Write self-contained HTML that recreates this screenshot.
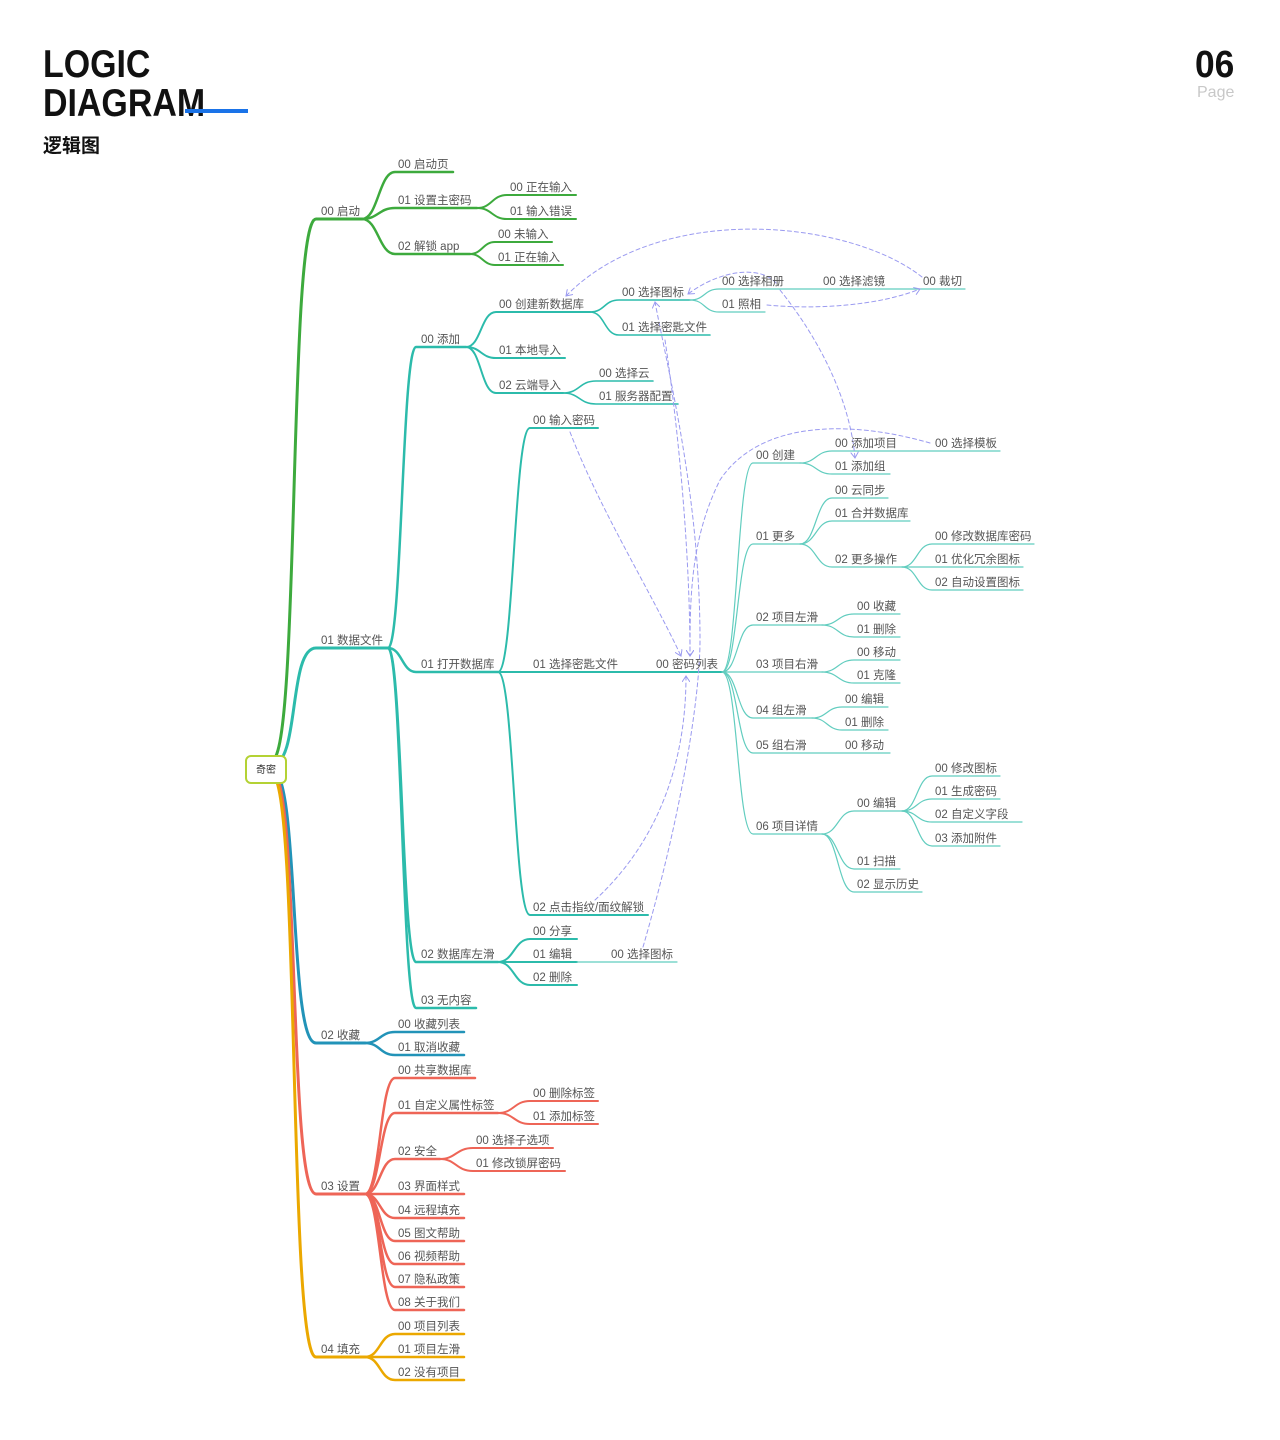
<!DOCTYPE html>
<html><head><meta charset="utf-8"><style>
html,body{margin:0;padding:0;background:#fff;}
body{width:1280px;height:1440px;position:relative;overflow:hidden;font-family:"Liberation Sans","Noto Sans CJK SC",sans-serif;}
.t1{position:absolute;left:43px;top:45px;font-size:39px;font-weight:bold;line-height:39px;color:#111;transform:scaleX(0.87);transform-origin:0 0;}
.bar{position:absolute;left:185px;top:109px;width:63px;height:4px;background:#1a73e8;}
.t2{position:absolute;left:43px;top:131px;font-size:19px;font-weight:bold;color:#111;}
.pg{position:absolute;left:1195px;top:44px;font-size:38px;font-weight:bold;color:#111;line-height:42px;transform:scaleX(0.93);transform-origin:0 0;}
.pg2{position:absolute;left:1197px;top:84px;font-size:16px;color:#c8c8c8;}
svg{position:absolute;left:0;top:0;}
svg text{font-family:"Liberation Sans","Noto Sans CJK SC",sans-serif;font-size:11.5px;fill:#555;}
</style></head><body>
<div class="t1">LOGIC<br>DIAGRAM</div>
<div class="bar"></div>
<div class="t2">逻辑图</div>
<div class="pg">06</div>
<div class="pg2">Page</div>
<svg width="1280" height="1440" viewBox="0 0 1280 1440">
<defs><marker id="a" markerWidth="8" markerHeight="8" refX="6" refY="4" orient="auto"><path d="M0 0 L6 4 L0 8" fill="none" stroke="#9a9af0" stroke-width="1"/></marker></defs>
<g fill="none" stroke-linecap="round">
<g stroke="#3daa3d" stroke-width="2.5">
<path d="M272 760 C300 760 288 219 316 219 L362 219" stroke-width="3"/>
<path d="M362 219 C378 219 379 172 395 172 L453 172"/>
<path d="M362 219 C378 219 379 208 395 208 L477 208"/>
<path d="M362 219 C378 219 379 254 395 254 L470 254"/>
<path d="M477 208 C492 208 492 195 507 195 L576 195" stroke-width="2"/>
<path d="M477 208 C492 208 492 219 507 219 L576 219" stroke-width="2"/>
<path d="M470 254 C482 254 483 242 495 242 L552 242" stroke-width="2"/>
<path d="M470 254 C482 254 483 265 495 265 L563 265" stroke-width="2"/>
</g>
<g stroke="#2cbbab" stroke-width="2">
<path d="M272 765 C300 765 288 648 316 648 L388 648" stroke-width="3"/>
<path d="M388 648 C402 648 402 347 416 347 L466 347" stroke-width="2.5"/>
<path d="M388 648 C402 648 402 672 416 672 L498 672" stroke-width="2.5"/>
<path d="M388 648 C402 648 402 962 416 962 L498 962" stroke-width="2.5"/>
<path d="M388 648 C402 648 402 1008 416 1008 L476 1008" stroke-width="2.5"/>
<path d="M466 347 C481 347 481 312 496 312 L590 312"/>
<path d="M466 347 C481 347 481 358 496 358 L565 358"/>
<path d="M466 347 C481 347 481 393 496 393 L563 393"/>
<path d="M590 312 C605 312 604 300 619 300 L690 300" stroke-width="1.6"/>
<path d="M590 312 C605 312 604 335 619 335 L710 335" stroke-width="1.6"/>
<path d="M563 393 C580 393 579 381 596 381 L653 381" stroke-width="1.6"/>
<path d="M563 393 C580 393 579 404 596 404 L678 404" stroke-width="1.6"/>
<path d="M498 672 C514 672 514 428 530 428 L598 428"/>
<path d="M498 672 L722 672"/>
<path d="M498 672 C514 672 514 915 530 915 L648 915"/>
<path d="M498 962 C514 962 514 939 530 939 L577 939"/>
<path d="M498 962 L577 962"/>
<path d="M498 962 C514 962 514 985 530 985 L577 985"/>
</g>
<g stroke="#62cdbf" stroke-width="1.2">
<path d="M690 300 C705 300 704 289 719 289 L965 289"/>
<path d="M690 300 C705 300 704 312 719 312 L765 312"/>
<path d="M577 962 L677 962"/>
<path d="M722 672 C738 672 737 463 753 463 L800 463"/>
<path d="M722 672 C738 672 737 544 753 544 L800 544"/>
<path d="M722 672 C738 672 737 625 753 625 L822 625"/>
<path d="M722 672 L822 672"/>
<path d="M722 672 C738 672 737 718 753 718 L812 718"/>
<path d="M722 672 C738 672 737 753 753 753 L890 753"/>
<path d="M722 672 C738 672 737 834 753 834 L822 834"/>
<path d="M800 463 C816 463 816 451 832 451 L1000 451"/>
<path d="M800 463 C816 463 816 474 832 474 L890 474"/>
<path d="M800 544 C816 544 816 498 832 498 L888 498"/>
<path d="M800 544 C816 544 816 521 832 521 L910 521"/>
<path d="M800 544 C816 544 816 567 832 567 L902 567"/>
<path d="M902 567 C917 567 917 544 932 544 L1034 544"/>
<path d="M902 567 L1023 567"/>
<path d="M902 567 C917 567 917 590 932 590 L1023 590"/>
<path d="M822 625 C838 625 838 614 854 614 L900 614"/>
<path d="M822 625 C838 625 838 637 854 637 L900 637"/>
<path d="M822 672 C838 672 838 660 854 660 L900 660"/>
<path d="M822 672 C838 672 838 683 854 683 L900 683"/>
<path d="M812 718 C827 718 827 707 842 707 L888 707"/>
<path d="M812 718 C827 718 827 730 842 730 L888 730"/>
<path d="M822 834 C838 834 838 811 854 811 L902 811"/>
<path d="M822 834 C838 834 838 869 854 869 L900 869"/>
<path d="M822 834 C838 834 838 892 854 892 L922 892"/>
<path d="M902 811 C917 811 917 776 932 776 L1000 776"/>
<path d="M902 811 C917 811 917 799 932 799 L1000 799"/>
<path d="M902 811 C917 811 917 822 932 822 L1022 822"/>
<path d="M902 811 C917 811 917 846 932 846 L1000 846"/>
</g>
<g stroke="#2293b8" stroke-width="2.5">
<path d="M272 770 C300 770 288 1043 316 1043 L365 1043" stroke-width="3"/>
<path d="M365 1043 C380 1043 380 1032 395 1032 L464 1032"/>
<path d="M365 1043 C380 1043 380 1055 395 1055 L464 1055"/>
</g>
<g stroke="#ee6557" stroke-width="2.5">
<path d="M272 772 C300 772 288 1194 316 1194 L365 1194" stroke-width="3"/>
<path d="M365 1194 C380 1194 380 1078 395 1078 L475 1078"/>
<path d="M365 1194 C380 1194 380 1113 395 1113 L498 1113"/>
<path d="M365 1194 C380 1194 380 1159 395 1159 L440 1159"/>
<path d="M365 1194 L464 1194"/>
<path d="M365 1194 C380 1194 380 1218 395 1218 L464 1218"/>
<path d="M365 1194 C380 1194 380 1241 395 1241 L464 1241"/>
<path d="M365 1194 C380 1194 380 1264 395 1264 L464 1264"/>
<path d="M365 1194 C380 1194 380 1287 395 1287 L464 1287"/>
<path d="M365 1194 C380 1194 380 1310 395 1310 L464 1310"/>
<path d="M498 1113 C514 1113 514 1101 530 1101 L598 1101" stroke-width="2"/>
<path d="M498 1113 C514 1113 514 1124 530 1124 L598 1124" stroke-width="2"/>
<path d="M440 1159 C456 1159 456 1148 473 1148 L553 1148" stroke-width="2"/>
<path d="M440 1159 C456 1159 456 1171 473 1171 L565 1171" stroke-width="2"/>
</g>
<g stroke="#eba800" stroke-width="2.5">
<path d="M272 775 C300 775 288 1357 316 1357 L365 1357" stroke-width="3"/>
<path d="M365 1357 C380 1357 380 1334 395 1334 L464 1334"/>
<path d="M365 1357 L464 1357"/>
<path d="M365 1357 C380 1357 380 1380 395 1380 L464 1380"/>
</g>
<g stroke="#9a9af0" stroke-width="1" stroke-dasharray="4 3" marker-end="url(#a)">
<path d="M922 277 C850 220 660 200 566 296"/>
<path d="M767 305 C820 310 880 305 920 289"/>
<path d="M776 283 C760 265 720 270 688 294"/>
<path d="M780 290 C820 340 850 400 855 458"/>
<path d="M643 947 C680 820 700 700 700 640 C700 500 670 380 655 302"/>
<path d="M665 340 C680 440 690 560 690 656"/>
<path d="M570 432 C600 510 650 590 681 656"/>
<path d="M930 443 C850 420 760 420 720 480 C690 540 690 600 690 656"/>
<path d="M595 900 C660 840 686 760 686 676"/>
</g>
</g>
<rect x="246" y="756" width="40" height="27" rx="5" fill="#fff" stroke="#b4d234" stroke-width="2"/>
<text x="256" y="773" style="font-size:10px;fill:#333">奇密</text>
<g>
<text x="321" y="215">00 启动</text>
<text x="398" y="168">00 启动页</text>
<text x="398" y="204">01 设置主密码</text>
<text x="398" y="250">02 解锁 app</text>
<text x="510" y="191">00 正在输入</text>
<text x="510" y="215">01 输入错误</text>
<text x="498" y="238">00 未输入</text>
<text x="498" y="261">01 正在输入</text>
<text x="321" y="644">01 数据文件</text>
<text x="421" y="343">00 添加</text>
<text x="499" y="308">00 创建新数据库</text>
<text x="499" y="354">01 本地导入</text>
<text x="499" y="389">02 云端导入</text>
<text x="622" y="296">00 选择图标</text>
<text x="622" y="331">01 选择密匙文件</text>
<text x="722" y="285">00 选择相册</text>
<text x="722" y="308">01 照相</text>
<text x="823" y="285">00 选择滤镜</text>
<text x="923" y="285">00 裁切</text>
<text x="599" y="377">00 选择云</text>
<text x="599" y="400">01 服务器配置</text>
<text x="421" y="668">01 打开数据库</text>
<text x="533" y="424">00 输入密码</text>
<text x="533" y="668">01 选择密匙文件</text>
<text x="656" y="668">00 密码列表</text>
<text x="533" y="911">02 点击指纹/面纹解锁</text>
<text x="421" y="958">02 数据库左滑</text>
<text x="533" y="935">00 分享</text>
<text x="533" y="958">01 编辑</text>
<text x="611" y="958">00 选择图标</text>
<text x="533" y="981">02 删除</text>
<text x="421" y="1004">03 无内容</text>
<text x="756" y="459">00 创建</text>
<text x="835" y="447">00 添加项目</text>
<text x="935" y="447">00 选择模板</text>
<text x="835" y="470">01  添加组</text>
<text x="756" y="540">01 更多</text>
<text x="835" y="494">00 云同步</text>
<text x="835" y="517">01 合并数据库</text>
<text x="835" y="563">02 更多操作</text>
<text x="935" y="540">00 修改数据库密码</text>
<text x="935" y="563">01 优化冗余图标</text>
<text x="935" y="586">02 自动设置图标</text>
<text x="756" y="621">02 项目左滑</text>
<text x="857" y="610">00 收藏</text>
<text x="857" y="633">01 删除</text>
<text x="756" y="668">03 项目右滑</text>
<text x="857" y="656">00 移动</text>
<text x="857" y="679">01 克隆</text>
<text x="756" y="714">04 组左滑</text>
<text x="845" y="703">00 编辑</text>
<text x="845" y="726">01 删除</text>
<text x="756" y="749">05 组右滑</text>
<text x="845" y="749">00 移动</text>
<text x="756" y="830">06 项目详情</text>
<text x="857" y="807">00 编辑</text>
<text x="857" y="865">01 扫描</text>
<text x="857" y="888">02 显示历史</text>
<text x="935" y="772">00 修改图标</text>
<text x="935" y="795">01 生成密码</text>
<text x="935" y="818">02 自定义字段</text>
<text x="935" y="842">03 添加附件</text>
<text x="321" y="1039">02 收藏</text>
<text x="398" y="1028">00 收藏列表</text>
<text x="398" y="1051">01 取消收藏</text>
<text x="321" y="1190">03 设置</text>
<text x="398" y="1074">00 共享数据库</text>
<text x="398" y="1109">01 自定义属性标签</text>
<text x="533" y="1097">00 删除标签</text>
<text x="533" y="1120">01 添加标签</text>
<text x="398" y="1155">02 安全</text>
<text x="476" y="1144">00 选择子选项</text>
<text x="476" y="1167">01 修改锁屏密码</text>
<text x="398" y="1190">03 界面样式</text>
<text x="398" y="1214">04 远程填充</text>
<text x="398" y="1237">05 图文帮助</text>
<text x="398" y="1260">06 视频帮助</text>
<text x="398" y="1283">07 隐私政策</text>
<text x="398" y="1306">08 关于我们</text>
<text x="321" y="1353">04 填充</text>
<text x="398" y="1330">00 项目列表</text>
<text x="398" y="1353">01 项目左滑</text>
<text x="398" y="1376">02 没有项目</text>
</g>
</svg>
</body></html>
